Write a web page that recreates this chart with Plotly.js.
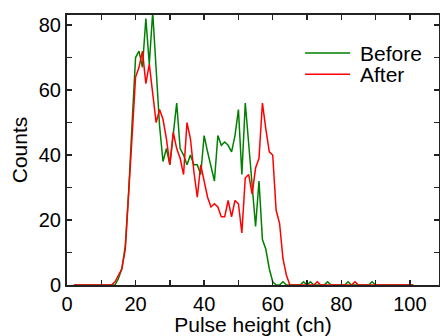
<!DOCTYPE html>
<html>
<head>
<meta charset="utf-8">
<script src="https://cdn.plot.ly/plotly-3.0.1.min.js"></script>
<style>html,body{margin:0;padding:0;background:#fff;}#plot{width:440px;height:336px;}</style>
</head>
<body>
<div id="plot"></div>
<script>
// Channels 2..101
const channels = [];
for (let c = 2; c <= 101; c++) channels.push(c);

// Counts "Before" (channels 2..101)
const before = [
  0,0,0,0,0,0,0,0,0,0,0,0,          // 2-13
  0,2,5,12,29,50,70,72,67,82,       // 14-23
  68,84,66,49,38,42,37,46,56,42,    // 24-33
  40,37,40,37,37,34,46,41,36,32,    // 34-43
  46,43,44,43,41,46,54,34,56,44,    // 44-53
  31,18,32,14,11,5,1,0,0,1,         // 54-63
  0,0,0,0,0,1,0,1,0,0,              // 64-73
  0,0,1,0,0,0,0,0,1,0,              // 74-83
  0,0,0,0,0,1,0,0,0,0,              // 84-93
  0,0,0,0,0,0,0,0                   // 94-101
];

// Counts "After" (channels 2..101)
const after = [
  0,0,0,0,0,0,0,0,0,0,0,0,          // 2-13
  1,3,5,11,27,46,64,67,72,62,       // 14-23
  68,59,50,54,51,45,37,47,42,39,    // 24-33
  34,50,45,35,27,37,32,27,24,25,    // 34-43
  24,21,21,26,21,26,25,16,33,34,    // 44-53
  28,36,39,56,48,41,40,23,19,8,     // 54-63
  3,0,0,0,0,0,0,0,0,1,              // 64-73
  0,0,0,0,0,0,0,0,0,0,              // 74-83
  1,0,0,0,0,0,0,0,0,0,              // 84-93
  0,0,0,0,0,0,0,0                   // 94-101
];

const seriesNames = ["Before", "After"];
const seriesColors = ["#008000", "#ff0000"];
const xTitle = "Pulse height (ch)";
const yTitle = "Counts";

const font = "Liberation Sans, Arial, sans-serif";

const traces = [
  {x: channels, y: before, name: seriesNames[0], type: "scatter", mode: "lines",
   line: {color: seriesColors[0], width: 1.5}},
  {x: channels, y: after, name: seriesNames[1], type: "scatter", mode: "lines",
   line: {color: seriesColors[1], width: 1.5}}
];

const axisCommon = {
  showgrid: false, zeroline: false, showline: true, linecolor: "#222", linewidth: 2,
  mirror: "ticks", ticks: "inside", ticklen: 5, tickwidth: 1.5, tickcolor: "#222",
  tickfont: {family: font, size: 20, color: "#000"},
  minor: {ticks: "inside", ticklen: 5, tickwidth: 1.5, tickcolor: "#222", dtick: 10}
};

// Legend drawn as line samples + labels (paper coordinates)
const legendX0 = 0.640, legendX1 = 0.761, legendTextX = 0.782;
const legendY = [0.859, 0.781];
const shapes = [], annotations = [];
seriesNames.forEach((nm, i) => {
  shapes.push({type: "line", xref: "paper", yref: "paper",
    x0: legendX0, x1: legendX1, y0: legendY[i], y1: legendY[i],
    line: {color: seriesColors[i], width: 1.5}});
  annotations.push({xref: "paper", yref: "paper", x: legendTextX, y: legendY[i],
    xanchor: "left", yanchor: "middle", text: nm, showarrow: false,
    font: {family: font, size: 21, color: "#000"}});
});

const layout = {
  width: 440, height: 336,
  margin: {l: 67, r: 1, t: 15, b: 51},
  paper_bgcolor: "#fff", plot_bgcolor: "#fff",
  font: {family: font, color: "#000"},
  showlegend: false,
  shapes: shapes,
  annotations: annotations,
  xaxis: Object.assign({}, axisCommon, {
    range: [0, 108.5], dtick: 20, tick0: 0,
    title: {text: xTitle, font: {family: font, size: 21, color: "#000"}, standoff: 5}
  }),
  yaxis: Object.assign({}, axisCommon, {
    range: [0, 83.1], dtick: 20, tick0: 0,
    title: {text: yTitle, font: {family: font, size: 21, color: "#000"}, standoff: 5}
  })
};

Plotly.newPlot("plot", traces, layout, {displayModeBar: false, staticPlot: true});
</script>
</body>
</html>
